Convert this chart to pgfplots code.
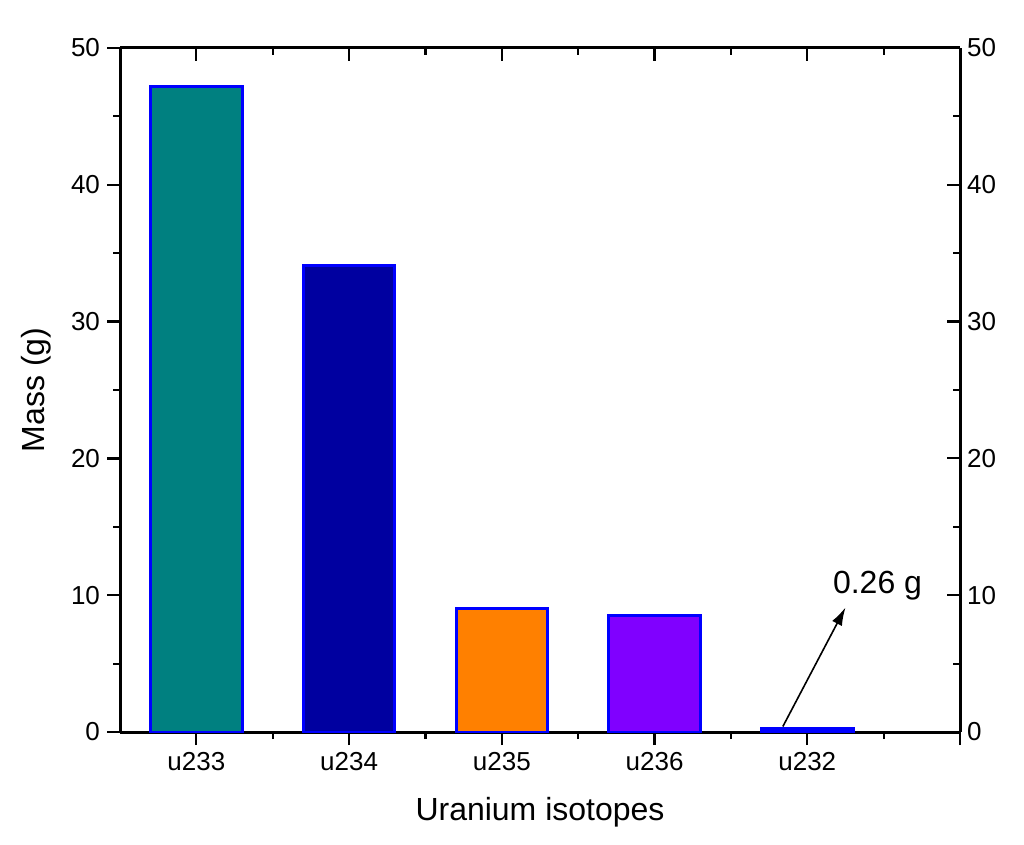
\documentclass[border=0pt]{standalone}
\usepackage{fontspec}
\setmainfont{Liberation Sans}
\usepackage{pgfplots}
\pgfplotsset{compat=1.18}
\usetikzlibrary{arrows.meta,calc}

\definecolor{cteal}{HTML}{008080}
\definecolor{cnavy}{HTML}{0000A0}
\definecolor{corange}{HTML}{FF8000}
\definecolor{cviolet}{HTML}{8000FF}
\definecolor{cedge}{HTML}{0000FF}

\pgfplotsset{
  common/.style={
    scale only axis, width=420pt, height=342pt,
    xmin=-0.5, xmax=5, ymin=0, ymax=50,
    xtick={0,1,2,3,4,5}, minor x tick num=1,
    ytick={0,10,20,30,40,50}, minor y tick num=1,
    major tick length=6.5pt, minor tick length=3.5pt,
    every tick/.style={black, line width=1.1pt},
    axis line style={line width=1.5pt},
    /pgf/number format/assume math mode=true,
    tick label style={font=\fontsize{13}{15}\selectfont},
  },
}

\begin{document}
\begin{tikzpicture}
\begin{axis}[common, name=ax,
  axis x line*=bottom, axis y line*=left,
  tick align=outside,
  xticklabels={u233,u234,u235,u236,u232,{}},
  xlabel={Uranium isotopes}, ylabel={Mass (g)},
  label style={font=\fontsize{16}{19}\selectfont},
  xlabel style={at={(axis description cs:0.5,-0.118)}, anchor=center},
  ylabel style={at={(axis description cs:-0.1,0.5)}, anchor=center},
  ybar, bar width=0.6, bar shift=0pt,
  every axis plot/.append style={draw=cedge, line width=1.5pt},
]
\addplot[fill=cteal]   coordinates {(0,47.2)};
\addplot[fill=cnavy]   coordinates {(1,34.1)};
\addplot[fill=corange] coordinates {(2,9.0)};
\addplot[fill=cviolet] coordinates {(3,8.55)};
\addplot[fill=cedge]   coordinates {(4,0.26)};
\draw[-{Latex[length=9pt,width=5.5pt]}, line width=0.8pt, black] (axis cs:3.84,0.4) -- (axis cs:4.25,9.1);
\node[font=\fontsize{16}{19}\selectfont] at (axis cs:4.46,10.7) {0.26 g};
\end{axis}
\begin{axis}[common,
  axis x line*=top, axis y line*=right,
  tick align=inside,
  xticklabels={},
]
\end{axis}
\pgfresetboundingbox
\path[use as bounding box] ($(ax.south west)+(-60pt,-56pt)$) rectangle ($(ax.north east)+(32pt,24pt)$);
\end{tikzpicture}
\end{document}
